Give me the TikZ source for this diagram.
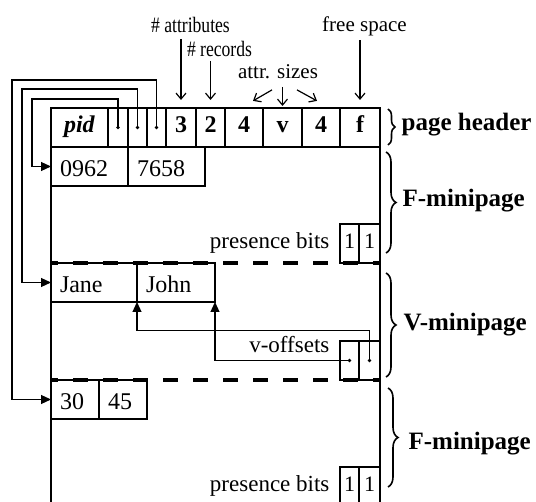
\documentclass[tikz,border=0pt]{standalone}
\usepackage{fontspec}
\setmainfont{Liberation Serif}
\newfontfamily\narrowfont[FakeStretch=0.8]{Liberation Serif}
\usetikzlibrary{positioning,arrows.meta,decorations.pathreplacing}

\begin{document}
\begin{tikzpicture}[x=1pt,y=-1pt,line width=1.2pt,line join=miter]
  \tikzset{
    hcell/.style={draw, outer sep=0pt, inner sep=0pt, minimum height=39pt,
      text height=16pt, text depth=5pt, font=\fontsize{24}{28}\selectfont\bfseries},
    cell/.style={draw, outer sep=0pt, inner xsep=9pt, inner ysep=0pt, minimum height=39pt,
      text height=21pt, text depth=1pt, align=left, font=\fontsize{24}{28}\selectfont},
    bitbox/.style={draw, outer sep=0pt, inner sep=0pt, minimum height=39pt,
      text height=16pt, text depth=5pt, font=\fontsize{22}{26}\selectfont},
    txt/.style={inner sep=0pt, font=\fontsize{23}{27}\selectfont},
    toplbl/.style={inner sep=1pt, anchor=base, font=\fontsize{21}{25}\selectfont},
    narrow/.style={font=\fontsize{22}{26}\narrowfont},
    partlbl/.style={anchor=base west, inner sep=0pt, font=\fontsize{25}{30}\selectfont\bfseries},
    ptr/.style={-{Triangle[length=10pt,width=9pt]}},
    lbl/.style={-{Straight Barb[length=6pt,width=10pt]}},
    curly/.style={decorate, decoration={brace, amplitude=#1}, line width=1.6pt},
    sepline/.style={line width=4pt, dash pattern=on 15pt off 15pt, dash phase=8pt}
  }
  \useasboundingbox (0,0) rectangle (536,502);

  % page header
  \node[hcell, minimum width=57pt, anchor=north west] (pid) at (51,108) {\textit{pid}};
  \node[hcell, minimum width=20pt, right=0pt of pid] (d1) {};
  \node[hcell, minimum width=19pt, right=0pt of d1] (d2) {};
  \node[hcell, minimum width=19pt, right=0pt of d2] (d3) {};
  \node[hcell, minimum width=30pt, right=0pt of d3] (n3) {3};
  \node[hcell, minimum width=29pt, right=0pt of n3] (n2) {2};
  \node[hcell, minimum width=38pt, right=0pt of n2] (s1) {4};
  \node[hcell, minimum width=39pt, right=0pt of s1] (sv) {v};
  \node[hcell, minimum width=38pt, right=0pt of sv] (s2) {4};
  \node[hcell, minimum width=40pt, right=0pt of s2] (fs) {f};
  \draw[line width=2.5pt] (pid.north west) -- (fs.north east);
  \draw (pid.south west) -- (51,505);
  \draw (fs.south east) -- (380,505);

  % F-minipage
  \node[cell, text width=59pt, anchor=north west] (r1a) at (51,147) {0962};
  \node[cell, text width=59pt, right=0pt of r1a] (r1b) {7658};
  \node[bitbox, minimum width=21pt, anchor=north east] (pb1b) at (380,224) {1};
  \node[bitbox, minimum width=19pt, left=0pt of pb1b] (pb1a) {1};
  \node[txt, anchor=base east] (pbt1) at ([xshift=-10pt]pb1a.base west) {presence bits};

  % V-minipage
  \node[cell, text width=68pt, anchor=north west] (jane) at (51,263) {Jane};
  \node[cell, text width=60pt, right=0pt of jane] (john) {John};
  \node[bitbox, minimum width=21pt, anchor=north east] (vo2) at (380,341) {};
  \node[bitbox, minimum width=19pt, left=0pt of vo2] (vo1) {};
  \node[txt, anchor=base east] (vot) at (330,353) {v-offsets};

  % F-minipage
  \node[cell, text width=30pt, anchor=north west] (thirty) at (51,380) {30};
  \node[cell, text width=30pt, right=0pt of thirty] (fortyfive) {45};
  \node[bitbox, minimum width=21pt, anchor=north east] (pb2b) at (380,467) {1};
  \node[bitbox, minimum width=19pt, left=0pt of pb2b] (pb2a) {1};
  \node[txt, anchor=base east] (pbt2) at ([xshift=-10pt]pb2a.base west) {presence bits};

  \draw[sepline] (51,263) -- (380,263);
  \draw[sepline] (51,380) -- (380,380);

  % pointers
  \foreach \d in {d1,d2,d3,vo1,vo2}
    \fill (\d.center) circle (1.8);
  \draw[ptr] (d1.center) |- (32,99) |- (r1a.west);
  \draw[ptr] (d2.center) |- (22,89) |- (jane.west);
  \draw[ptr] (d3.center) |- (12,80) |- (thirty.west);
  \draw[ptr] (vo2.center) -- ++(0,-30) -| (john.south west);
  \draw[ptr] (vo1.center) -| (john.south east);

  % labels on top
  \node[toplbl, narrow] (nattr) at (190.5,33) {\# attributes};
  \node[toplbl, narrow] (nrec) at (219.5,57) {\# records};
  \node[toplbl] (sizes) at (278,79) {attr. sizes};
  \node[toplbl] (free) at (364.5,32) {free space};
  \draw[lbl, shorten <=4pt, shorten >=8pt] (n3.north |- nattr.south) -- (n3.north);
  \draw[lbl, shorten <=2pt, shorten >=8pt] (n2.north |- nrec.south) -- (n2.north);
  \draw[lbl, shorten <=2pt, shorten >=8pt] (fs.north |- free.south) -- (fs.north);
  \draw[lbl, shorten <=6pt, shorten >=2pt] (sv.north |- sizes.south) -- (sv.north);
  \draw[lbl] ([xshift=-6pt,yshift=-9pt]sizes.south) -- ++(-19,11);
  \draw[lbl] ([xshift=19pt,yshift=-9pt]sizes.south) -- ++(20,11);

  % braces
  \draw[curly=7pt] (388,109) -- (388,145);
  \draw[curly=10pt] (386,152) -- (386,253);
  \draw[curly=10pt] (386,273) -- (386,377);
  \draw[curly=10pt] (388,388) -- (388,487);
  \node[partlbl] (phd) at (401,131) {page header};
  \node[partlbl] (fmp1) at (402,207) {F-minipage};
  \node[partlbl] (vmp) at (403,331) {V-minipage};
  \node[partlbl] (fmp2) at (408,450) {F-minipage};
\end{tikzpicture}
\end{document}
